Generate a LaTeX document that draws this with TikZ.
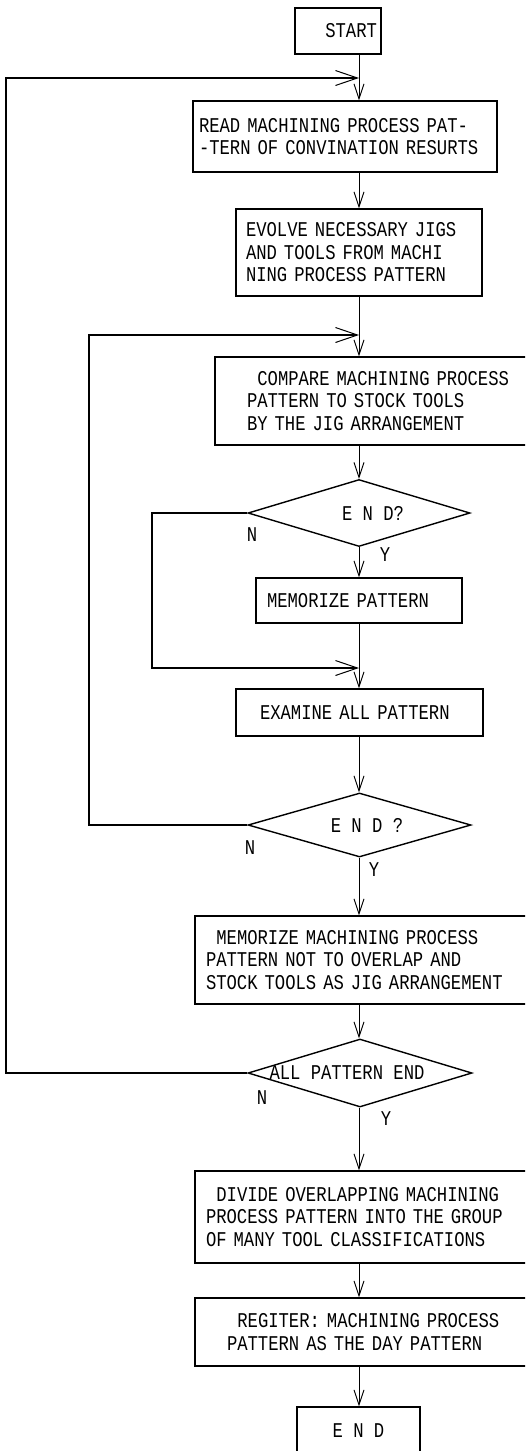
\documentclass[tikz,border=0pt]{standalone}
\usepackage{fontspec}
\setmonofont[FakeStretch=0.82]{Liberation Mono}
\usetikzlibrary{shapes.geometric,arrows.meta}

\newcommand{\einr}{\hphantom{X}}

\tikzset{
	schrift/.style={font=\ttfamily\fontsize{21}{22.5}\selectfont},
	kasten/.style={schrift, draw, line width=1.4pt, inner ysep=0pt, align=left},
	raute/.style={draw, diamond, line width=1.4pt, inner sep=0pt},
	pfeil/.style={line width=1pt, -{Straight Barb[length=15pt,width=10pt,line width=0.9pt]}},
	rueck/.style={line width=1.7pt, -{Straight Barb[length=22pt,width=15pt,line width=1pt]}},
}

\begin{document}
\begin{tikzpicture}[x=1pt, y=-1pt]
		% Rahmen
		\useasboundingbox (0,0) rectangle (525,1451);
		\clip (0,0) rectangle (525,1451);
		
		% Hauptachse
		\coordinate (ax) at (359,0);
		
		% Kaesten
		\node[kasten, align=right, minimum width=86pt, minimum height=46pt, inner xsep=4pt, text width=78pt] (start) at (338,31) {START};
		\node[kasten, minimum width=304pt, minimum height=71pt, inner xsep=6pt, text width=292pt] (read) at (345,136.5)
			{READ MACHINING PROCESS PAT-\\-TERN OF CONVINATION RESURTS};
		\node[kasten, minimum width=246pt, minimum height=87pt, inner xsep=10pt, text width=226pt] (evolve) at (359,252.5)
			{EVOLVE NECESSARY JIGS\\AND TOOLS FROM MACHI\\NING PROCESS PATTERN};
		\node[kasten, minimum width=340pt, minimum height=88pt, inner xsep=32pt, text width=276pt] (compare) at (385,401)
			{\einr COMPARE MACHINING PROCESS\\PATTERN TO STOCK TOOLS\\BY THE JIG ARRANGEMENT};
		\node[kasten, minimum width=206pt, minimum height=45pt, inner xsep=11pt, text width=184pt] (mempat) at (359,600.5)
			{MEMORIZE PATTERN};
		\node[kasten, minimum width=247pt, minimum height=47pt, inner xsep=24pt, text width=199pt] (examine) at (359.5,712.5)
			{EXAMINE ALL PATTERN};
		\node[kasten, minimum width=360pt, minimum height=88pt, inner xsep=11pt, text width=338pt] (memmach) at (375,960)
			{\einr MEMORIZE MACHINING PROCESS\\PATTERN NOT TO OVERLAP AND\\STOCK TOOLS AS JIG ARRANGEMENT};
		\node[kasten, minimum width=360pt, minimum height=92pt, inner xsep=11pt, text width=338pt] (divide) at (375,1217)
			{\einr DIVIDE OVERLAPPING MACHINING\\PROCESS PATTERN INTO THE GROUP\\OF MANY TOOL CLASSIFICATIONS};
		\node[kasten, minimum width=360pt, minimum height=68pt, inner xsep=32pt, text width=296pt] (regiter) at (375,1332)
			{\einr REGITER: MACHINING PROCESS\\PATTERN AS THE DAY PATTERN};
		\node[kasten, align=center, minimum width=123pt, minimum height=48pt] (end) at (358.5,1431) {E N D};
		
		% Rauten
		\node[raute, minimum width=222pt, minimum height=67pt] (d1) at (359,513) {};
		\node[raute, minimum width=223pt, minimum height=64pt] (d2) at (359.5,825) {};
		\node[raute, minimum width=224pt, minimum height=68pt] (d3) at (360,1073) {};
		\node[schrift] (t1) at (373,513) {E N D?};
		\node[schrift] (t2) at (367,825) {E N D ?};
		\node[schrift] (t3) at (347,1073) {ALL PATTERN END};
		
		% Ja/Nein
		\node[schrift] (n1) at (252,535) {N};
		\node[schrift] (y1) at (385,555) {Y};
		\node[schrift] (n2) at (250,848) {N};
		\node[schrift] (y2) at (374,870) {Y};
		\node[schrift] (n3) at (262,1098) {N};
		\node[schrift] (y3) at (386,1119) {Y};
		
		% Pfeile nach unten
		\foreach \a/\b in {start/read, read/evolve, evolve/compare, compare/d1, d1/mempat,
			mempat/examine, examine/d2, d2/memmach, memmach/d3, d3/divide, divide/regiter, regiter/end}
			\draw[pfeil] (\a.south -| ax) -- (\b.north -| ax);
		
		% Rueckfuehrungen
		\coordinate (k1) at (359,78);
		\coordinate (k2) at (359,335);
		\coordinate (k3) at (359,668);
		\draw[rueck] (d3.west) -- ++(-241,0) |- (k1); % aeussere Schleife
		\draw[rueck] (d2.west) -- ++(-158,0) |- (k2); % mittlere Schleife
		\draw[rueck] (d1.west) -- ++(-95,0) |- (k3); % innere Schleife
	\end{tikzpicture}
\end{document}
